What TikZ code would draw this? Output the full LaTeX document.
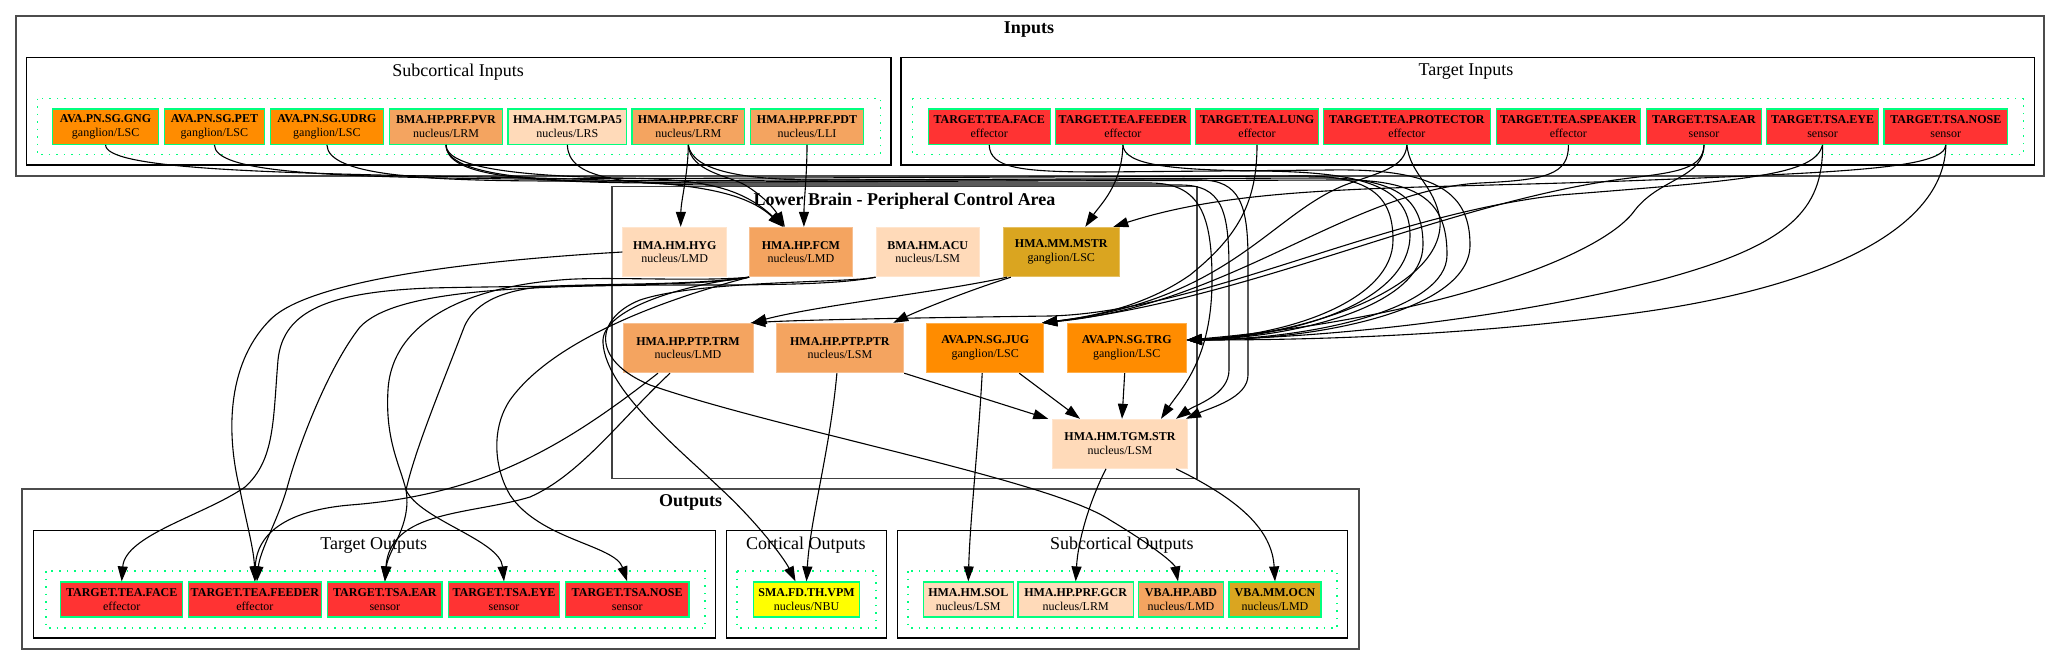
\documentclass[tikz,border=0pt]{standalone}
\usepackage{fontspec}
\setmainfont{Liberation Serif}
\usetikzlibrary{arrows.meta}
\definecolor{sgreen}{RGB}{0,255,127}
\definecolor{dorange}{RGB}{255,140,0}
\definecolor{sandy}{RGB}{244,164,96}
\definecolor{peach}{RGB}{255,218,185}
\definecolor{gold}{RGB}{218,165,32}
\definecolor{tred}{RGB}{255,51,51}
\definecolor{yel}{RGB}{255,255,0}
\newcommand{\nfont}{\fontsize{12}{13.5}\selectfont}
\newcommand{\tfont}{\fontsize{18}{20}\selectfont}
\tikzset{
 nd/.style={inner sep=0pt, align=center, font=\nfont},
 io/.style={nd, draw=sgreen, line width=1.2pt, minimum height=35.3pt},
 lbn/.style={nd, minimum height=49.4pt, line width=1pt},
 edg/.style={line width=1.1pt, -{Triangle[length=15pt,width=10pt]}},
 clu/.style={draw=black, line width=1.2pt},
 lbc/.style={draw=black!75, line width=1.5pt},
 outerc/.style={draw=black!70, line width=2pt},
 dotbox/.style={draw=sgreen, line width=1.5pt, dash pattern=on 1.5pt off 6pt},
 ttl/.style={font=\tfont\bfseries, inner sep=0pt},
 sttl/.style={font=\tfont, inner sep=0pt},
}
\begin{document}
\begin{tikzpicture}[x=1pt,y=-1pt]
\useasboundingbox[fill=white] (0,0) rectangle (2061,665);
% clusters
\draw[outerc] (16,15.7) rectangle (2044,175.7);
\node[ttl] (tInputs) at (1029,29.3) {Inputs};
\draw[clu] (26.4,57.3) rectangle (891,165);
\node[sttl] (tSubIn) at (458,72) {Subcortical Inputs};
\draw[dotbox] (37.3,98.7) rectangle (880.5,154.7);
\draw[clu] (901,57.3) rectangle (2034.6,165);
\node[sttl] (tTgtIn) at (1466,72) {Target Inputs};
\draw[dotbox] (912.4,98.7) rectangle (2023.3,154.7);
\draw[lbc] (612,186.7) rectangle (1197,478.3);
\node[ttl] (tLB) at (904.5,200.7) {Lower Brain - Peripheral Control Area};
\draw[outerc] (21.8,489) rectangle (1358.5,649.3);
\node[ttl] (tOutputs) at (690.6,502.7) {Outputs};
\draw[clu] (33.3,530.7) rectangle (715.8,638);
\node[sttl] (tTgtOut) at (373.7,545.3) {Target Outputs};
\draw[dotbox] (46,571) rectangle (705,628);
\draw[clu] (726.8,530.7) rectangle (886.2,638);
\node[sttl] (tCorOut) at (805.8,545.3) {Cortical Outputs};
\draw[dotbox] (737,571) rectangle (875.9,628);
\draw[clu] (897.3,530.7) rectangle (1347.8,638);
\node[sttl] (tSubOut) at (1121.9,545.3) {Subcortical Outputs};
\draw[dotbox] (908,571) rectangle (1337,628);
% subcortical inputs
\node[io, fill=dorange, minimum width=105.6pt] (gng) at (105.6,126.7) {\textbf{AVA.PN.SG.GNG}\\ganglion/LSC};
\node[io, fill=dorange, minimum width=100.4pt] (pet) at (214.4,126.7) {\textbf{AVA.PN.SG.PET}\\ganglion/LSC};
\node[io, fill=dorange, minimum width=113pt] (udrg) at (326.9,126.7) {\textbf{AVA.PN.SG.UDRG}\\ganglion/LSC};
\node[io, fill=sandy, minimum width=112.5pt] (pvr) at (446,126.7) {\textbf{BMA.HP.PRF.PVR}\\nucleus/LRM};
\node[io, fill=peach, minimum width=118.8pt] (pa5) at (567.4,126.7) {\textbf{HMA.HM.TGM.PA5}\\nucleus/LRS};
\node[io, fill=sandy, minimum width=112.5pt] (crf) at (688.3,126.7) {\textbf{HMA.HP.PRF.CRF}\\nucleus/LRM};
\node[io, fill=sandy, minimum width=112.5pt] (pdt) at (807,126.7) {\textbf{HMA.HP.PRF.PDT}\\nucleus/LLI};
% target inputs
\node[io, fill=tred, minimum width=122pt] (face) at (989.2,126.7) {\textbf{TARGET.TEA.FACE}\\effector};
\node[io, fill=tred, minimum width=134.8pt] (feeder) at (1122.9,126.7) {\textbf{TARGET.TEA.FEEDER}\\effector};
\node[io, fill=tred, minimum width=122.7pt] (lung) at (1257,126.7) {\textbf{TARGET.TEA.LUNG}\\effector};
\node[io, fill=tred, minimum width=166.5pt] (prot) at (1406.9,126.7) {\textbf{TARGET.TEA.PROTECTOR}\\effector};
\node[io, fill=tred, minimum width=144.6pt] (speaker) at (1568.4,126.7) {\textbf{TARGET.TEA.SPEAKER}\\effector};
\node[io, fill=tred, minimum width=114.5pt] (ear) at (1704,126.7) {\textbf{TARGET.TSA.EAR}\\sensor};
\node[io, fill=tred, minimum width=112.2pt] (eye) at (1822.6,126.7) {\textbf{TARGET.TSA.EYE}\\sensor};
\node[io, fill=tred, minimum width=123.5pt] (nose) at (1945.8,126.7) {\textbf{TARGET.TSA.NOSE}\\sensor};
% lower brain
\node[lbn, fill=peach, draw=peach!70!white, minimum width=103.6pt] (hyg) at (674.7,252) {\textbf{HMA.HM.HYG}\\nucleus/LMD};
\node[lbn, fill=sandy, draw=sandy!70!white, minimum width=102.8pt] (fcm) at (800.9,252) {\textbf{HMA.HP.FCM}\\nucleus/LMD};
\node[lbn, fill=peach, draw=peach!70!white, minimum width=103.6pt] (acu) at (927.8,252) {\textbf{BMA.HM.ACU}\\nucleus/LSM};
\node[lbn, fill=gold, draw=gold!70!white, minimum width=115.9pt] (mstr) at (1061.3,252) {\textbf{HMA.MM.MSTR}\\ganglion/LSC};
\node[lbn, fill=sandy, draw=sandy!70!white, minimum width=130pt] (trm) at (688,348) {\textbf{HMA.HP.PTP.TRM}\\nucleus/LMD};
\node[lbn, fill=sandy, draw=sandy!70!white, minimum width=127.7pt] (ptr) at (839.9,348) {\textbf{HMA.HP.PTP.PTR}\\nucleus/LSM};
\node[lbn, fill=dorange, draw=dorange!70!white, minimum width=117pt] (jug) at (985.2,348) {\textbf{AVA.PN.SG.JUG}\\ganglion/LSC};
\node[lbn, fill=dorange, draw=dorange!70!white, minimum width=119.4pt] (trg) at (1126.7,348) {\textbf{AVA.PN.SG.TRG}\\ganglion/LSC};
\node[lbn, fill=peach, draw=peach!70!white, minimum width=134.5pt, minimum height=49pt] (str) at (1120,443.8) {\textbf{HMA.HM.TGM.STR}\\nucleus/LSM};
% outputs
\node[io, fill=tred, minimum width=121.7pt, minimum height=35pt] (oface) at (121.7,599.5) {\textbf{TARGET.TEA.FACE}\\effector};
\node[io, fill=tred, minimum width=133.2pt, minimum height=35pt] (ofeeder) at (254.9,599.5) {\textbf{TARGET.TEA.FEEDER}\\effector};
\node[io, fill=tred, minimum width=114.2pt, minimum height=35pt] (oear) at (384.9,599.5) {\textbf{TARGET.TSA.EAR}\\sensor};
\node[io, fill=tred, minimum width=111.4pt, minimum height=35pt] (oeye) at (504,599.5) {\textbf{TARGET.TSA.EYE}\\sensor};
\node[io, fill=tred, minimum width=123.5pt, minimum height=35pt] (onose) at (627.2,599.5) {\textbf{TARGET.TSA.NOSE}\\sensor};
\node[io, fill=yel, minimum width=106.7pt, minimum height=35pt] (vpm) at (806.5,599.5) {\textbf{SMA.FD.TH.VPM}\\nucleus/NBU};
\node[io, fill=peach, minimum width=90.2pt, minimum height=35pt] (sol) at (968.3,599.5) {\textbf{HMA.HM.SOL}\\nucleus/LSM};
\node[io, fill=peach, minimum width=115.6pt, minimum height=35pt] (gcr) at (1075.7,599.5) {\textbf{HMA.HP.PRF.GCR}\\nucleus/LRM};
\node[io, fill=sandy, minimum width=85.3pt, minimum height=35pt] (abd) at (1181,599.5) {\textbf{VBA.HP.ABD}\\nucleus/LMD};
\node[io, fill=gold, minimum width=92pt, minimum height=35pt] (ocn) at (1275,599.5) {\textbf{VBA.MM.OCN}\\nucleus/LMD};
% ---- edges: subcortical inputs
\draw[edg] (gng.south) .. controls (106,168) and (250,173) .. (480,177) .. controls (650,180) and (735,182) .. ([xshift=-18pt]fcm.north);
\draw[edg] (pvr.south) .. controls (446,168) and (520,176) .. (620,178) .. controls (700,179) and (740,186) .. ([xshift=-17pt]fcm.north);
\draw[edg] (crf.south) .. controls (690,172) and (730,176) .. (745,185) .. controls (765,197) and (775,210) .. ([xshift=-16pt]fcm.north);
\draw[edg] (pdt.south) .. controls (807,175) and (804,200) .. ([xshift=3pt]fcm.north);
\draw[edg] (crf.south) .. controls (688,175) and (681,200) .. ([xshift=6pt]hyg.north);
\draw[edg] (pvr.south) .. controls (447,172) and (500,182) .. (650,183) -- (1150,183) .. controls (1200,183) and (1212,215) .. (1212,280) .. controls (1212,360) and (1180,390) .. ([xshift=41pt]str.north);
\draw[edg] (pa5.south) .. controls (568,178) and (620,185) .. (720,185) -- (1180,185) .. controls (1222,185) and (1229,210) .. (1229,270) -- (1229,370) .. controls (1229,395) and (1195,405) .. ([xshift=56pt]str.north);
\draw[edg] (crf.south) .. controls (692,170) and (740,180) .. (820,180) -- (1200,180) .. controls (1240,180) and (1248,205) .. (1248,260) -- (1248,375) .. controls (1248,398) and (1210,408) .. ([xshift=66pt]str.north);
\draw[edg] (pet.south) .. controls (215,172) and (320,177) .. (520,179) -- (1300,176) .. controls (1375,175) and (1393,200) .. (1393,240) .. controls (1393,300) and (1290,335) .. ([yshift=8pt]trg.east);
\draw[edg] (udrg.south) .. controls (328,175) and (420,181) .. (560,181) -- (1320,178) .. controls (1405,177) and (1423,205) .. (1423,245) .. controls (1423,305) and (1300,337) .. ([yshift=8pt]trg.east);
\draw[edg] (pvr.south) .. controls (446,176) and (540,184) .. (700,182) -- (1340,180) .. controls (1430,179) and (1447,210) .. (1447,255) .. controls (1447,310) and (1310,339) .. ([yshift=8pt]trg.east);
% ---- edges: target inputs
\draw[edg] (face.south) .. controls (990,168) and (1020,172) .. (1100,172) -- (1330,170) .. controls (1440,168) and (1470,195) .. (1470,245) .. controls (1470,310) and (1320,340) .. ([yshift=8pt]trg.east);
\draw[edg] (feeder.south) .. controls (1122,185) and (1100,205) .. ([xshift=24pt]mstr.north);
\draw[edg] (feeder.south) .. controls (1124,165) and (1170,170) .. (1260,171) .. controls (1360,172) and (1410,185) .. (1410,235) .. controls (1410,300) and (1300,336) .. ([yshift=8pt]trg.east);
\draw[edg] (lung.south) .. controls (1257,200) and (1240,235) .. (1190,275) .. controls (1140,310) and (1080,318) .. ([xshift=-2pt]jug.north east);
\draw[edg] (prot.south) .. controls (1405,168) and (1380,172) .. (1345,185) .. controls (1270,215) and (1230,300) .. ([xshift=-2pt]jug.north east);
\draw[edg] (prot.south) .. controls (1410,175) and (1435,185) .. (1440,220) .. controls (1445,290) and (1300,336) .. ([yshift=8pt]trg.east);
\draw[edg] (speaker.south) .. controls (1569,175) and (1545,180) .. (1480,183) .. controls (1350,190) and (1230,305) .. ([xshift=-2pt]jug.north east);
\draw[edg] (ear.south) .. controls (1703,168) and (1680,172) .. (1630,178) .. controls (1450,200) and (1250,300) .. ([xshift=-2pt]jug.north east);
\draw[edg] (ear.south) .. controls (1704,178) and (1660,178) .. (1635,210) .. controls (1600,260) and (1420,320) .. ([yshift=8pt]trg.east);
\draw[edg] (eye.south) .. controls (1815,175) and (1750,180) .. (1560,195) .. controls (1380,215) and (1200,312) .. (1050,316) .. controls (900,318) and (800,320) .. ([xshift=-3pt]trm.north east);
\draw[edg] (eye.south) .. controls (1823,210) and (1790,245) .. (1660,280) .. controls (1480,325) and (1300,338) .. ([yshift=8pt]trg.east);
\draw[edg] (nose.south) .. controls (1945,168) and (1850,172) .. (1650,180) .. controls (1400,190) and (1250,183) .. ([xshift=52pt]mstr.north);
\draw[edg] (nose.south) .. controls (1945,230) and (1820,290) .. (1620,315) .. controls (1450,337) and (1300,340) .. ([yshift=8pt]trg.east);
% ---- edges: internal
\draw[edg] ([xshift=4pt]mstr.south west) .. controls (940,292) and (820,305) .. ([xshift=-2pt]trm.north east);
\draw[edg] ([xshift=8pt]mstr.south west) .. controls (970,290) and (920,310) .. ([xshift=-11pt]ptr.north east);
\draw[edg] (ptr.south east) -- ([xshift=-4pt]str.north west);
\draw[edg] ([xshift=34pt]jug.south) -- ([xshift=-40pt]str.north);
\draw[edg] ([xshift=-2pt]trg.south) -- ([xshift=2pt]str.north);
% ---- edges: outputs
\draw[edg] (hyg.west) .. controls (450,262) and (310,283) .. (272,318) .. controls (228,360) and (225,430) .. (240,490) .. controls (247,525) and (254,550) .. (ofeeder.north);
\draw[edg] (fcm.south west) .. controls (700,287) and (560,285) .. (430,288) .. controls (330,292) and (283,310) .. (278,360) .. controls (273,420) and (275,460) .. (245,487) .. controls (205,515) and (125,535) .. (oface.north);
\draw[edg] (acu.south west) .. controls (845,283) and (800,285) .. (700,285) .. controls (520,285) and (395,290) .. (360,327) .. controls (330,365) and (300,440) .. (287,488) .. controls (278,520) and (260,550) .. ([xshift=2pt]ofeeder.north);
\draw[edg] (fcm.south west) .. controls (700,282) and (600,276) .. (560,280) .. controls (470,287) and (392,320) .. (388,390) .. controls (385,440) and (400,465) .. (406,490) .. controls (412,525) and (388,550) .. (oear.north);
\draw[edg] (fcm.south west) .. controls (690,286) and (590,283) .. (540,287) .. controls (490,292) and (470,310) .. (463,330) .. controls (440,390) and (415,450) .. (406,490) .. controls (420,520) and (500,540) .. (oeye.north);
\draw[edg] ([xshift=-30pt]trm.south) .. controls (560,450) and (480,495) .. (350,505) .. controls (270,512) and (256,545) .. (ofeeder.north);
\draw[edg] ([xshift=-18pt]trm.south) .. controls (620,420) and (580,475) .. (530,497) .. controls (470,515) and (390,510) .. (oear.north);
\draw[edg] (fcm.south west) .. controls (700,290) and (560,330) .. (510,400) .. controls (490,430) and (495,470) .. (510,495) .. controls (540,540) and (615,545) .. (onose.north);
\draw[edg] (fcm.south west) .. controls (680,285) and (600,310) .. (603,343) .. controls (606,390) and (680,450) .. (720,488) .. controls (760,525) and (785,560) .. ([xshift=-11pt]vpm.north);
\draw[edg] (acu.south west) .. controls (850,283) and (700,280) .. (640,300) .. controls (595,318) and (590,360) .. (650,385) .. controls (780,430) and (1050,480) .. (1110,520) .. controls (1160,550) and (1175,565) .. ([xshift=-3pt]abd.north);
\draw[edg] ([xshift=-3pt]ptr.south) .. controls (830,450) and (810,520) .. (vpm.north);
\draw[edg] ([xshift=-3pt]jug.south) .. controls (978,450) and (970,520) .. (sol.north);
\draw[edg] ([xshift=-14pt]str.south) .. controls (1090,500) and (1078,540) .. (gcr.north);
\draw[edg] ([xshift=56pt]str.south) .. controls (1240,500) and (1272,530) .. (ocn.north);
\end{tikzpicture}
\end{document}
